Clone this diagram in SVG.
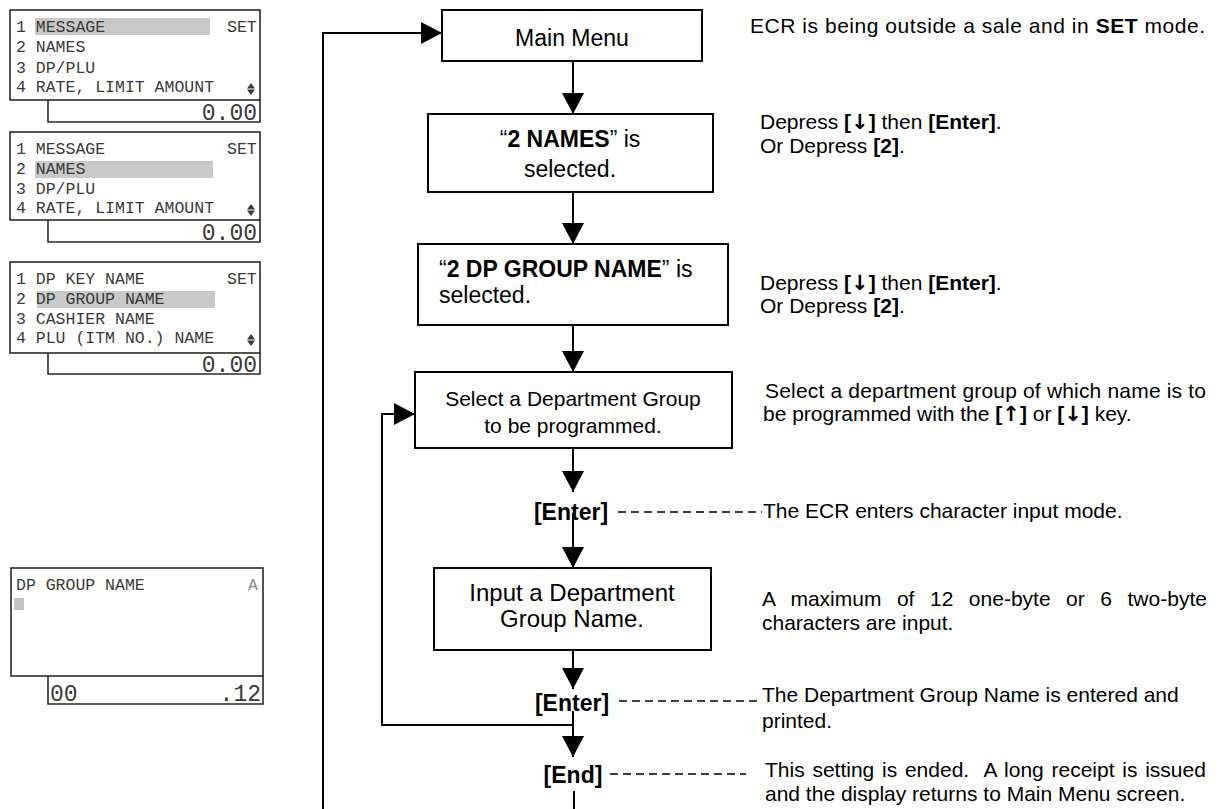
<svg xmlns="http://www.w3.org/2000/svg" width="1227" height="809" viewBox="0 0 1227 809">
<style>
.bg{fill:#fff}
.frame{fill:none;stroke:#2a2a2a;stroke-width:1.6}
.hl{fill:#c9c9c9}
.lcd{font-family:"Liberation Mono",monospace;font-size:16.5px;fill:#3a3a3a}
.amt{font-family:"Liberation Mono",monospace;font-size:23px;fill:#3a3a3a}
.box{fill:#fff;stroke:#000;stroke-width:2}
.bt{font-family:"Liberation Sans",Arial,sans-serif;fill:#000}
.ds{font-family:"Liberation Sans",Arial,sans-serif;font-size:21px;fill:#000}
.key{font-family:"Liberation Sans",Arial,sans-serif;font-size:23px;font-weight:bold;fill:#000}
.b{font-weight:bold}
.arr{font-family:"DejaVu Sans",sans-serif;font-weight:bold}
.ln{fill:none;stroke:#000;stroke-width:2}
.dash{fill:none;stroke:#000;stroke-width:1.5;stroke-dasharray:8 5}
</style>
<defs>
<marker id="ah" markerUnits="userSpaceOnUse" markerWidth="22" markerHeight="22" refX="21" refY="11" orient="auto" viewBox="0 0 22 22">
<path d="M0,0 L21,11 L0,22 z" fill="#000"/>
</marker>
</defs>
<rect class="bg" x="0" y="0" width="1227" height="809"/>

<g id="display1">
<rect class="hl" x="35" y="18" width="175" height="17"/>
<rect class="frame" x="10" y="10" width="250" height="90"/>
<path class="frame" d="M48,100 V122 H260 V100"/>
<text class="lcd" x="16" y="32">1 MESSAGE</text>
<text class="lcd" x="227" y="32">SET</text>
<text class="lcd" x="16" y="52">2 NAMES</text>
<text class="lcd" x="16" y="73">3 DP/PLU</text>
<text class="lcd" x="16" y="92">4 RATE, LIMIT AMOUNT</text>
<path d="M251,83 L255,88.5 L247,88.5 Z M247,89.5 L255,89.5 L251,95 Z" fill="#3a3a3a"/>
<text class="amt" x="257" y="120" text-anchor="end">0.00</text>
</g>

<g id="display2">
<rect class="hl" x="35" y="161" width="178" height="17"/>
<rect class="frame" x="10" y="132" width="250" height="88"/>
<path class="frame" d="M48,220 V242 H260 V220"/>
<text class="lcd" x="16" y="154">1 MESSAGE</text>
<text class="lcd" x="227" y="154">SET</text>
<text class="lcd" x="16" y="174">2 NAMES</text>
<text class="lcd" x="16" y="194">3 DP/PLU</text>
<text class="lcd" x="16" y="213">4 RATE, LIMIT AMOUNT</text>
<path d="M251,204 L255,209.5 L247,209.5 Z M247,210.5 L255,210.5 L251,216 Z" fill="#3a3a3a"/>
<text class="amt" x="257" y="240" text-anchor="end">0.00</text>
</g>

<g id="display3">
<rect class="hl" x="37" y="291" width="178" height="17"/>
<rect class="frame" x="10" y="262" width="250" height="91"/>
<path class="frame" d="M48,353 V374 H260 V353"/>
<text class="lcd" x="16" y="284">1 DP KEY NAME</text>
<text class="lcd" x="227" y="284">SET</text>
<text class="lcd" x="16" y="304">2 DP GROUP NAME</text>
<text class="lcd" x="16" y="324">3 CASHIER NAME</text>
<text class="lcd" x="16" y="343">4 PLU (ITM NO.) NAME</text>
<path d="M251,334 L255,339.5 L247,339.5 Z M247,340.5 L255,340.5 L251,346 Z" fill="#3a3a3a"/>
<text class="amt" x="257" y="372" text-anchor="end">0.00</text>
</g>

<g id="display4">
<rect class="frame" x="11" y="568" width="252" height="108"/>
<path class="frame" d="M48,676 V704 H263 V676"/>
<text class="lcd" x="16" y="590">DP GROUP NAME</text>
<text class="lcd" x="248" y="590" style="fill:#8a8a8a">A</text>
<rect x="14" y="598" width="10" height="12" fill="#c4c4c4"/>
<text class="amt" x="50" y="701">00</text>
<text class="amt" x="261" y="701" text-anchor="end">.12</text>
</g>

<g id="connectors">
<path class="ln" d="M323,809 V33 H442" marker-end="url(#ah)"/>
<path class="ln" d="M573,61 V114" marker-end="url(#ah)"/>
<path class="ln" d="M573,192 V244" marker-end="url(#ah)"/>
<path class="ln" d="M573,325 V372" marker-end="url(#ah)"/>
<path class="ln" d="M573,448 V492" marker-end="url(#ah)"/>
<path class="ln" d="M573,513 V568" marker-end="url(#ah)"/>
<path class="ln" d="M573,650 V689" marker-end="url(#ah)"/>
<path class="ln" d="M573,711 V757" marker-end="url(#ah)"/>
<path class="ln" d="M573,725 H382 V414 H415" marker-end="url(#ah)"/>
<path class="ln" d="M574,791 V809"/>
<path class="dash" d="M618,512 H762"/>
<path class="dash" d="M619,701 H762"/>
<path class="dash" d="M610,774 H746"/>
</g>

<g id="n-main">
<rect class="box" x="442" y="10" width="260" height="51"/>
<text class="bt" x="572" y="46" font-size="23" text-anchor="middle">Main Menu</text>
</g>

<g id="n-names">
<rect class="box" x="428" y="114" width="285" height="78"/>
<text class="bt" x="570" y="147" font-size="23" text-anchor="middle">“<tspan class="b">2 NAMES</tspan>” is</text>
<text class="bt" x="570" y="177" font-size="23" text-anchor="middle">selected.</text>
</g>

<g id="n-dpgroup">
<rect class="box" x="418" y="244" width="310" height="81"/>
<text class="bt" x="439" y="277" font-size="23">“<tspan class="b">2 DP GROUP NAME</tspan>” is</text>
<text class="bt" x="439" y="303" font-size="23">selected.</text>
</g>

<g id="n-select">
<rect class="box" x="415" y="372" width="317" height="76"/>
<text class="bt" x="573" y="406" font-size="21" text-anchor="middle">Select a Department Group</text>
<text class="bt" x="573" y="433" font-size="21" text-anchor="middle">to be programmed.</text>
</g>

<g id="n-enter1">
<text class="key" x="571" y="520" text-anchor="middle">[Enter]</text>
</g>

<g id="n-input">
<rect class="box" x="434" y="568" width="277" height="82"/>
<text class="bt" x="572" y="601" font-size="24" text-anchor="middle">Input a Department</text>
<text class="bt" x="572" y="627" font-size="24" text-anchor="middle">Group Name.</text>
</g>

<g id="n-enter2">
<text class="key" x="572" y="711" text-anchor="middle">[Enter]</text>
</g>

<g id="n-end">
<text class="key" x="573" y="783" text-anchor="middle">[End]</text>
</g>

<g id="descriptions">
<text class="ds" x="750" y="33" textLength="455" lengthAdjust="spacing">ECR is being outside a sale and in <tspan class="b">SET</tspan> mode.</text>
<text class="ds" x="760" y="129">Depress <tspan class="b">[<tspan class="arr">↓</tspan>]</tspan> then <tspan class="b">[Enter]</tspan>.</text>
<text class="ds" x="760" y="153">Or Depress <tspan class="b">[2]</tspan>.</text>
<text class="ds" x="760" y="290">Depress <tspan class="b">[<tspan class="arr">↓</tspan>]</tspan> then <tspan class="b">[Enter]</tspan>.</text>
<text class="ds" x="760" y="313">Or Depress <tspan class="b">[2]</tspan>.</text>
<text class="ds" x="765" y="398" textLength="441" lengthAdjust="spacing">Select a department group of which name is to</text>
<text class="ds" x="763" y="421">be programmed with the <tspan class="b">[<tspan class="arr">↑</tspan>]</tspan> or <tspan class="b">[<tspan class="arr">↓</tspan>]</tspan> key.</text>
<text class="ds" x="763" y="518">The ECR enters character input mode.</text>
<text class="ds" x="762" y="606" word-spacing="9.7">A maximum of 12 one-byte or 6 two-byte</text>
<text class="ds" x="762" y="630">characters are input.</text>
<text class="ds" x="762" y="702">The Department Group Name is entered and</text>
<text class="ds" x="762" y="728">printed.</text>
<text class="ds" x="765" y="777" xml:space="preserve" word-spacing="1.9">This setting is ended.  A long receipt is issued</text>
<text class="ds" x="765" y="801">and the display returns to Main Menu screen.</text>
</g>
</svg>
